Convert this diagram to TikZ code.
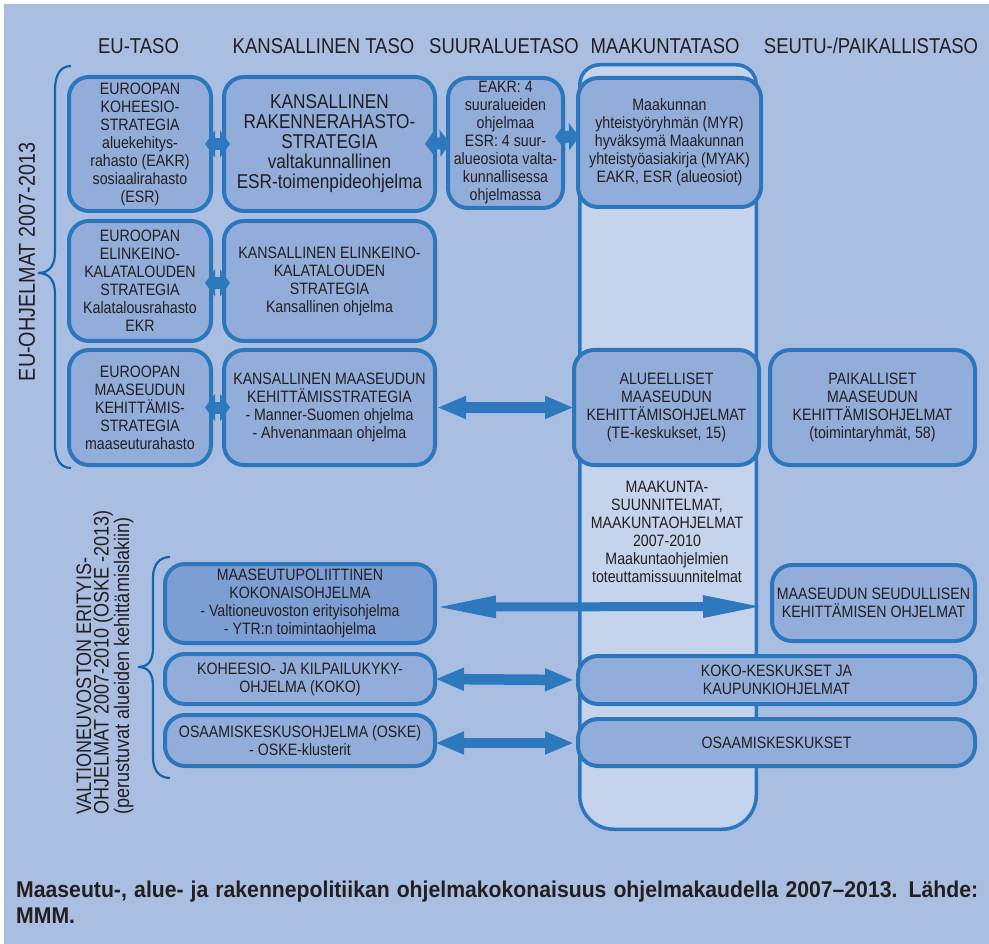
\documentclass[tikz,border=0pt]{standalone}
\usepackage{fontspec}
\setmainfont[FakeStretch=0.86]{Liberation Sans}
\newfontfamily\capfam[FakeStretch=0.93]{Liberation Sans}
\usetikzlibrary{arrows.meta}
\definecolor{bgc}{RGB}{170,190,225}
\definecolor{boxc}{RGB}{146,173,218}
\definecolor{boxdark}{RGB}{125,158,211}
\definecolor{colc}{RGB}{197,211,236}
\definecolor{bordc}{RGB}{44,118,189}
\definecolor{arrc}{RGB}{46,120,190}
\definecolor{bracec}{RGB}{22,100,170}
\definecolor{txt}{RGB}{35,31,32}
\newcommand{\bxfont}{\fontsize{16.5}{18}\selectfont}
\newcommand{\bigbxfont}{\fontsize{20}{20}\selectfont}
\newcommand{\hdfont}{\fontsize{21.5}{22}\selectfont}
\newcommand{\vtfont}{\fontsize{21}{17.5}\selectfont}
\newcommand{\capfont}{\capfam\fontsize{22.8}{26}\selectfont\bfseries}
\begin{document}
\begin{tikzpicture}[x=1pt,y=-1pt,
  box/.style={draw=bordc,line width=4pt,fill=boxc,rounded corners=20pt,align=center,inner sep=0pt,text=txt,font=\bxfont},
  hd/.style={anchor=base,text=txt,font=\hdfont,inner sep=0pt},
  brc/.style={draw=bracec,line width=2.2pt},
  sarrow/.style={draw=arrc,line width=12pt,{Triangle[length=10pt,width=27pt]}-{Triangle[length=10pt,width=27pt]}},
  marrow/.style={draw=arrc,line width=10.5pt,{Triangle[length=29pt,width=21pt]}-{Triangle[length=29pt,width=21pt]}},
  larrow/.style={draw=arrc,line width=9pt,{Triangle[length=62pt,width=20pt]}-{Triangle[length=62pt,width=20pt]}}
]
\useasboundingbox (0,0) rectangle (989,944);
\fill[white] (0,0) rectangle (989,944);
\fill[bgc] (4,4) rectangle (989,944);

% headers
\node[hd] (h1) at (138.5,54) {EU-TASO};
\node[hd] (h2) at (323.5,54) {KANSALLINEN TASO};
\node[hd] (h3) at (504,54) {SUURALUETASO};
\node[hd] (h4) at (665,54) {MAAKUNTATASO};
\node[hd] (h5) at (871,54) {SEUTU-/PAIKALLISTASO};

% maakunta column
\path[draw=bordc,line width=3.5pt,fill=colc]
  (579.75,450) [rounded corners=20pt] -- (579.75,64.75) -- (756.25,64.75) -- (756.25,450)
  [rounded corners=34pt] -- (756.25,829.25) -- (579.75,829.25) [sharp corners] -- cycle;
\node[text=txt,font=\bxfont,align=center,inner sep=0pt] (mtext) at (667,532)
  {MAAKUNTA-\\SUUNNITELMAT,\\MAAKUNTAOHJELMAT\\2007-2010\\Maakuntaohjelmien\\toteuttamissuunnitelmat};

% row 1
\node[box,minimum width=142pt,minimum height=134pt] (eu1) at (140,144)
  {EUROOPAN\\KOHEESIO-\\STRATEGIA\\aluekehitys-\\rahasto (EAKR)\\sosiaalirahasto\\(ESR)};
\node[box,font=\bigbxfont,minimum width=211pt,minimum height=134pt] (k1) at (329.5,144)
  {KANSALLINEN\\RAKENNERAHASTO-\\STRATEGIA\\valtakunnallinen\\ESR-toimenpideohjelma};
\node[box,minimum width=115pt,minimum height=130pt] (s1) at (505.5,143)
  {EAKR: 4\\suuralueiden\\ohjelmaa\\ESR: 4 suur-\\alueosiota valta-\\kunnallisessa\\ohjelmassa};
\node[box,minimum width=183pt,minimum height=129pt] (m1) at (669.5,142.5)
  {Maakunnan\\yhteistyöryhmän (MYR)\\hyväksymä Maakunnan\\yhteistyöasiakirja (MYAK)\\EAKR, ESR (alueosiot)};

% row 2
\node[box,minimum width=142pt,minimum height=120pt] (eu2) at (140,281)
  {EUROOPAN\\ELINKEINO-\\KALATALOUDEN\\STRATEGIA\\Kalatalousrahasto\\EKR};
\node[box,minimum width=211pt,minimum height=120pt] (k2) at (329.5,281)
  {KANSALLINEN ELINKEINO-\\KALATALOUDEN\\STRATEGIA\\Kansallinen ohjelma};

% row 3
\node[box,minimum width=142pt,minimum height=115pt] (eu3) at (140,407.5)
  {EUROOPAN\\MAASEUDUN\\KEHITTÄMIS-\\STRATEGIA\\maaseuturahasto};
\node[box,minimum width=211pt,minimum height=115pt] (k3) at (329.5,407.5)
  {KANSALLINEN MAASEUDUN\\KEHITTÄMISSTRATEGIA\\- Manner-Suomen ohjelma\\- Ahvenanmaan ohjelma};
\node[box,minimum width=185pt,minimum height=115pt] (al3) at (666.5,407.5)
  {ALUEELLISET\\MAASEUDUN\\KEHITTÄMISOHJELMAT\\(TE-keskukset, 15)};
\node[box,minimum width=205pt,minimum height=115pt] (pk3) at (872.5,407.5)
  {PAIKALLISET\\MAASEUDUN\\KEHITTÄMISOHJELMAT\\(toimintaryhmät, 58)};

% lower rows
\node[box,fill=boxdark,minimum width=270pt,minimum height=79pt] (mp4) at (300,603.5)
  {MAASEUTUPOLIITTINEN\\KOKONAISOHJELMA\\- Valtioneuvoston erityisohjelma\\- YTR:n toimintaohjelma};
\node[box,minimum width=203pt,minimum height=76pt] (ms4) at (873.5,603)
  {MAASEUDUN SEUDULLISEN\\KEHITTÄMISEN OHJELMAT};
\node[box,minimum width=270pt,minimum height=50pt] (ko5) at (300,679)
  {KOHEESIO- JA KILPAILUKYKY-\\OHJELMA (KOKO)};
\node[box,minimum width=397pt,minimum height=48pt] (kk5) at (776.5,680)
  {KOKO-KESKUKSET JA\\KAUPUNKIOHJELMAT};
\node[box,minimum width=270pt,minimum height=51pt] (os6) at (300,740.5)
  {OSAAMISKESKUSOHJELMA (OSKE)\\- OSKE-klusterit};
\node[box,minimum width=397pt,minimum height=47pt] (ok6) at (776.5,742.5)
  {OSAAMISKESKUKSET};

% arrows
\draw[sarrow] ([xshift=-8pt]eu1.east) -- ([xshift=8pt]k1.west);
\draw[sarrow] ([xshift=-12pt]k1.east) -- ([xshift=4pt]s1.west);
\draw[sarrow] ([xshift=-10pt,yshift=6pt]s1.east) -- ([xshift=3pt,yshift=6pt]m1.west);
\draw[sarrow] ([xshift=-8pt,yshift=-2pt]eu2.east) -- ([xshift=8pt,yshift=-2pt]k2.west);
\draw[sarrow] ([xshift=-8pt]eu3.east) -- ([xshift=8pt]k3.west);
\draw[marrow] (k3.east) -- ([xshift=2pt]al3.west);
\draw[larrow] ([xshift=-3pt,yshift=-3.5pt]mp4.east) -- ([xshift=-5pt,yshift=-3.5pt]ms4.west);
\draw[marrow] ([xshift=-2pt]ko5.east) -- ([xshift=-2pt]kk5.west);
\draw[marrow] ([xshift=-2pt,yshift=-2.5pt]os6.east) -- ([xshift=-2pt,yshift=-0.5pt]ok6.west);

% braces
\draw[brc] (71,66) .. controls (61,66) and (55,74) .. (55,90) -- (55,252)
  .. controls (55,266) and (49,273) .. (38,273)
  .. controls (49,273) and (55,280) .. (55,294) -- (55,444)
  .. controls (55,460) and (61,468) .. (71,468);
\draw[brc] (170,557) .. controls (160,557) and (153,564) .. (153,578) -- (153,648)
  .. controls (153,661) and (148,667) .. (138,667)
  .. controls (148,667) and (153,673) .. (153,686) -- (153,757)
  .. controls (153,771) and (160,778) .. (170,778);

% vertical labels
\node[rotate=90,text=txt,font=\fontsize{23}{23}\selectfont,inner sep=0pt] (v1) at (27,262) {EU-OHJELMAT 2007-2013};
\node[rotate=90,anchor=west,align=left,text=txt,font=\vtfont,inner sep=0pt] (v2) at (105,815)
  {VALTIONEUVOSTON ERITYIS-\\OHJELMAT 2007-2010 (OSKE -2013)\\(perustuvat alueiden kehittämislakiin)};

% caption
\node[anchor=base west,align=left,text=txt,font=\capfont,inner sep=0pt] (cap) at (16,923)
  {\makebox[962pt][s]{Maaseutu-, alue- ja rakennepolitiikan ohjelmakokonaisuus ohjelmakaudella 2007–2013. Lähde:}\\MMM.};
\end{tikzpicture}
\end{document}
